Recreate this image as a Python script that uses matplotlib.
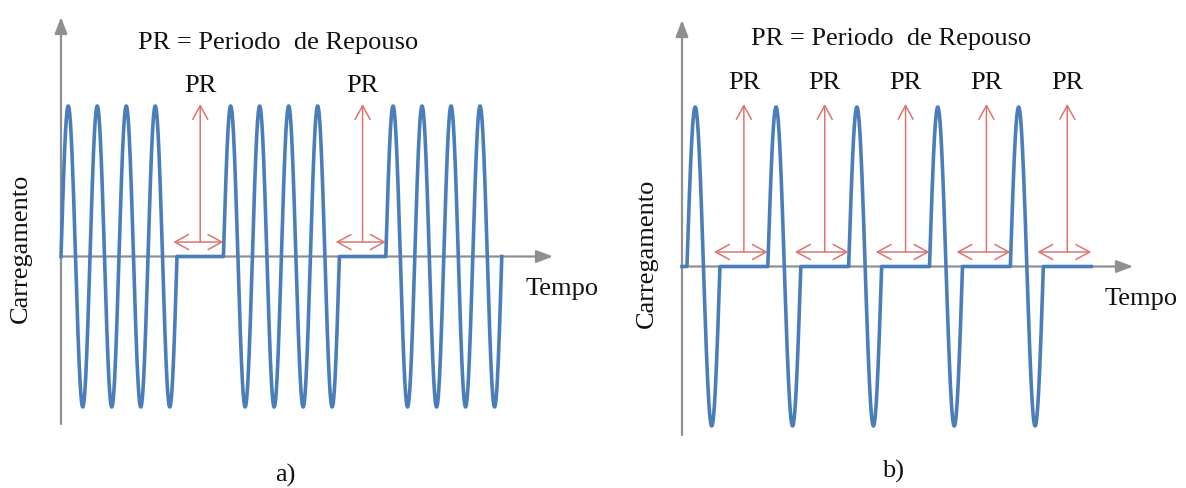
"""
Carregamento cíclico com períodos de repouso (PR) — painéis a) e b).
"""

import matplotlib

matplotlib.use("Agg")
import matplotlib.pyplot as plt
import numpy as np

# ─────────────────────────────────────────────
# DATA (time in load-cycle units, load normalised to amplitude 1)
# ─────────────────────────────────────────────
# panel a: 3 blocks of 4 cycles, rest between blocks
CYCLES_A = [4, 4, 4]
REST_A = [1.6, 1.6, 0.0]
LEAD_A = 0.0

# panel b: 5 blocks of 1 cycle, rest after each block
CYCLES_B = [1, 1, 1, 1, 1]
REST_B = [1.45, 1.45, 1.45, 1.45, 1.45]
LEAD_B = 0.15

TITLE = "PR = Periodo  de Repouso"
REST_LABEL = "PR"
Y_LABEL = "Carregamento"
X_LABEL = "Tempo"
PANEL_LABELS = ["a)", "b)"]

# ─────────────────────────────────────────────
# STYLE
# ─────────────────────────────────────────────
BLUE = "#4a7ebb"
RED = "#dc7470"
GREY = "#8f8f8f"
BLACK = "#111111"
SERIF = ["Liberation Serif", "DejaVu Serif"]
FS = 19

W, H = 1186, 489
fig = plt.figure(figsize=(W / 100, H / 100), dpi=100)
fig.patch.set_facecolor("white")


def build_signal(cycles, rests, lead):
    t_all, y_all, rest_spans = [np.array([0.0, lead])], [np.array([0.0, 0.0])], []
    t0 = lead
    for n, r in zip(cycles, rests):
        t = np.linspace(0, n, 120 * n)
        t_all.append(t0 + t)
        y_all.append(np.sin(2 * np.pi * t))
        t0 += n
        if r > 0:
            t_all.append(np.array([t0, t0 + r]))
            y_all.append(np.array([0.0, 0.0]))
            rest_spans.append((t0, t0 + r))
            t0 += r
    return np.concatenate(t_all), np.concatenate(y_all), rest_spans


def make_panel(px_left, px_right, px_top, px_bottom, px_zero, px_unit_x, px_unit_y):
    ax = fig.add_axes(
        [px_left / W, (H - px_bottom) / H, (px_right - px_left) / W, (px_bottom - px_top) / H]
    )
    ax.set_xlim(0, (px_right - px_left) / px_unit_x)
    ax.set_ylim(-(px_bottom - px_zero) / px_unit_y, (px_zero - px_top) / px_unit_y)
    ax.axis("off")
    return ax


def draw_axes(ax):
    x0, x1 = ax.get_xlim()
    y0, y1 = ax.get_ylim()
    head = dict(arrowstyle="-|>,head_length=1.0,head_width=0.38", color=GREY, lw=1.6,
                mutation_scale=10, shrinkA=0, shrinkB=0)
    ax.annotate("", xy=(0, y1), xytext=(0, y0), arrowprops=head, annotation_clip=False)
    ax.annotate("", xy=(x1, 0), xytext=(0, 0), arrowprops=head, annotation_clip=False)


def draw_rest_marks(ax, spans, y_arrow, y_top, y_text, shift):
    style = dict(color=RED, lw=1.1, mutation_scale=18, shrinkA=0, shrinkB=0)
    for a, b in spans:
        mid = (a + b) / 2
        ax.annotate("", xy=(b, y_arrow), xytext=(a + shift, y_arrow),
                    arrowprops=dict(arrowstyle="<->,head_length=0.55,head_width=0.3", **style),
                    annotation_clip=False)
        ax.annotate("", xy=(mid, y_top), xytext=(mid, y_arrow),
                    arrowprops=dict(arrowstyle="->,head_length=0.55,head_width=0.3", **style),
                    annotation_clip=False)
        ax.text(mid, y_text, REST_LABEL, ha="center", va="baseline", fontsize=FS,
                family=SERIF, color=BLACK)


# ══════════════════════════════════════════════
# PANEL a
# ══════════════════════════════════════════════
axa = make_panel(61, 553, 18, 425, 257.5, 29.0, 150.5)
draw_axes(axa)
ta, ya, spans_a = build_signal(CYCLES_A, REST_A, LEAD_A)
axa.plot(ta, ya, color=BLUE, lw=2.6, solid_joinstyle="round", clip_on=False, zorder=3)
draw_rest_marks(axa, spans_a, 0.096, 1.013, 1.10, -0.13)

fig.text(278 / W, 1 - 49 / H, TITLE, ha="center", va="baseline", fontsize=FS, family=SERIF, color=BLACK)
fig.text(21 / W, 1 - 248 / H, Y_LABEL, ha="center", va="center", rotation=90, fontsize=FS,
         family=SERIF, color=BLACK)
fig.text(562 / W, 1 - 295 / H, X_LABEL, ha="center", va="baseline", fontsize=FS, family=SERIF, color=BLACK)
fig.text(285 / W, 1 - 482 / H, PANEL_LABELS[0], ha="center", va="baseline", fontsize=FS, family=SERIF,
         color=BLACK)

# ══════════════════════════════════════════════
# PANEL b
# ══════════════════════════════════════════════
axb = make_panel(682, 1133, 21, 436, 267.5, 33.0, 159.5)
draw_axes(axb)
tb, yb, spans_b = build_signal(CYCLES_B, REST_B, LEAD_B)
axb.plot(tb, yb, color=BLUE, lw=2.6, solid_joinstyle="round", clip_on=False, zorder=3)
draw_rest_marks(axb, spans_b, 0.091, 1.019, 1.119, -0.18)

fig.text(891 / W, 1 - 45 / H, TITLE, ha="center", va="baseline", fontsize=FS, family=SERIF, color=BLACK)
fig.text(647 / W, 1 - 253 / H, Y_LABEL, ha="center", va="center", rotation=90, fontsize=FS,
         family=SERIF, color=BLACK)
fig.text(1141 / W, 1 - 305 / H, X_LABEL, ha="center", va="baseline", fontsize=FS, family=SERIF, color=BLACK)
fig.text(893 / W, 1 - 478 / H, PANEL_LABELS[1], ha="center", va="baseline", fontsize=FS, family=SERIF,
         color=BLACK)

fig.savefig("out.png", dpi=100, facecolor="white")
print("Saved: out.png")
